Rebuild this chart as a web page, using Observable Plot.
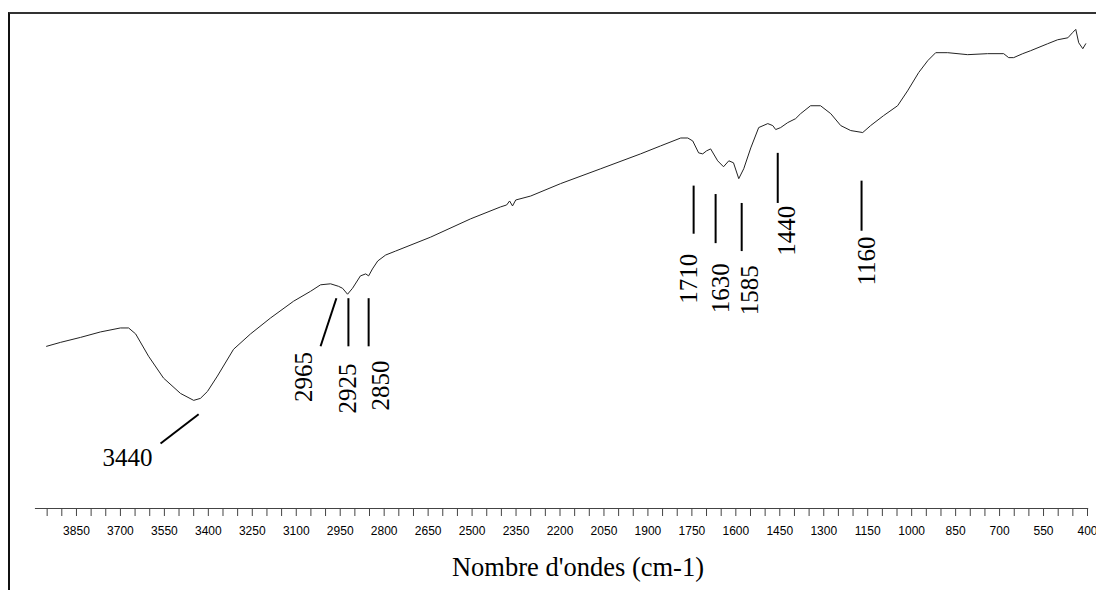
<!DOCTYPE html>
<html>
<head>
<meta charset="utf-8">
<script src="https://cdn.jsdelivr.net/npm/d3@7"></script>
<script src="https://cdn.jsdelivr.net/npm/@observablehq/plot@0.6"></script>
<style>
  html, body { margin: 0; padding: 0; background: #fff; }
  body { width: 1096px; height: 590px; position: relative; overflow: hidden; }
  #frame { position: absolute; left: 8px; top: 12px; width: 1200px; height: 700px;
           border-left: 2px solid #111; border-top: 2px solid #333; box-sizing: border-box; }
  #chart { position: absolute; left: 0; top: 0; }
</style>
</head>
<body>
<div id="frame"></div>
<div id="chart"></div>
<script>
// IR spectrum (transmittance, arbitrary %)
const wavenumber = [3952,3904,3836,3768,3700,3672,3648,3604,3553,3495,
  3450,3427,3403,3369,3314,3256,3188,3109,3051,3017,
  2983,2956,2942,2925,2908,2881,2863,2853,2840,2822,
  2795,2761,2642,2505,2403,2382,2372,2362,2351,2300,
  2198,2061,1925,1857,1788,1764,1747,1727,1713,1700,
  1686,1662,1642,1624,1608,1590,1573,1549,1522,1491,
  1474,1464,1447,1423,1396,1379,1345,1311,1276,1242,
  1208,1167,1140,1096,1048,1014,976,945,918,877,
  809,741,686,669,652,621,594,536,502,467,
  450,440,430,416,406];
const transmittance = [32.7,33.5,34.5,35.6,36.4,36.4,35.2,30.7,26.3,23.2,
  21.8,22.2,23.6,26.7,32.1,35.2,38.4,41.8,43.8,45.1,
  45.3,44.8,44.4,43.2,44.4,46.9,47.3,46.9,48.3,49.9,
  51.1,51.9,54.7,58.4,60.8,61.2,62.0,61.0,62.2,63.0,
  65.5,68.5,71.5,73.1,74.7,74.7,74.1,71.7,71.5,72.1,
  72.5,70.1,68.9,70.1,69.7,66.5,68.5,72.7,76.8,77.6,
  77.2,76.4,76.8,77.8,78.6,79.6,81.2,81.2,79.6,77.2,
  76.2,75.8,77.2,79.2,81.2,84.2,87.9,90.3,91.9,91.9,
  91.5,91.7,91.7,90.9,90.9,91.7,92.3,93.7,94.5,94.9,
  96.0,96.6,93.9,92.7,93.7];

// axis tick labels
const tickLabels = [3850,3700,3550,3400,3250,3100,2950,2800,2650,2500,2350,2200,
  2050,1900,1750,1600,1450,1300,1150,1000,850,700,550,400];

// peak annotations: label, leader line (x1,y1)-(x2,y2), label position
const peakLabel = ["3440","2965","2925","2850","1710","1630","1585","1440","1160"];
const lineX1 = [3563,3017,2922,2853,1744,1669,1580,1457,1171];
const lineY1 = [13.1,32.7,32.7,32.7,55.4,53.5,51.9,61.6,56.0];
const lineX2 = [3433,2963,2922,2853,1744,1669,1580,1457,1171];
const lineY2 = [19.0,42.4,42.4,42.4,65.1,63.4,61.6,71.7,66.1];
const textX = [3676,3072,2925,2812,1761,1652,1550,1427,1154];
const textY = [10.1,26.5,24.2,24.8,46.3,44.4,44.0,56.0,49.9];
const textRotate = [0,-90,-90,-90,-90,-90,-90,-90,-90];

const spectrum = wavenumber.map((w, i) => ({w, t: transmittance[i]}));
const peaks = peakLabel.map((label, i) => ({
  label, x1: lineX1[i], y1: lineY1[i], x2: lineX2[i], y2: lineY2[i],
  tx: textX[i], ty: textY[i], rot: textRotate[i]
}));
const tickValues = d3.range(3950, 399, -50);
const labelSet = new Set(tickLabels);

const serif = "'Liberation Serif', 'Times New Roman', serif";

const chart = Plot.plot({
  width: 1096,
  height: 590,
  marginLeft: 32,
  marginRight: 9,
  marginTop: 12,
  marginBottom: 82,
  style: {background: "transparent", overflow: "visible"},
  x: {domain: [4000, 400], axis: null},
  y: {domain: [0, 100], axis: null},
  marks: [
    Plot.ruleY([0], {x1: 3990, x2: 396, stroke: "#444", strokeWidth: 1}),
    Plot.axisX({
      ticks: tickValues,
      tickSize: 8,
      tickPadding: 10,
      tickFormat: d => labelSet.has(d) ? String(d) : "",
      fontSize: 12,
      fontFamily: "'Liberation Sans', Arial, sans-serif",
      fill: "#000",
      stroke: "#444",
      label: null
    }),
    Plot.text(["Nombre d'ondes (cm-1)"], {
      frameAnchor: "bottom", lineAnchor: "middle", dy: 59, dx: 18,
      fontSize: 26.5, fontFamily: serif, fill: "#000"
    }),
    Plot.line(spectrum, {x: "w", y: "t", stroke: "#222", strokeWidth: 1, curve: "linear"}),
    Plot.link(peaks, {x1: "x1", y1: "y1", x2: "x2", y2: "y2", stroke: "#000", strokeWidth: 2}),
    Plot.text(peaks, {
      x: "tx", y: "ty", text: "label", rotate: "rot",
      fontSize: 25, fontFamily: serif, fill: "#000",
      textAnchor: "middle", lineAnchor: "middle"
    })
  ]
});
document.getElementById("chart").appendChild(chart);
</script>
</body>
</html>
